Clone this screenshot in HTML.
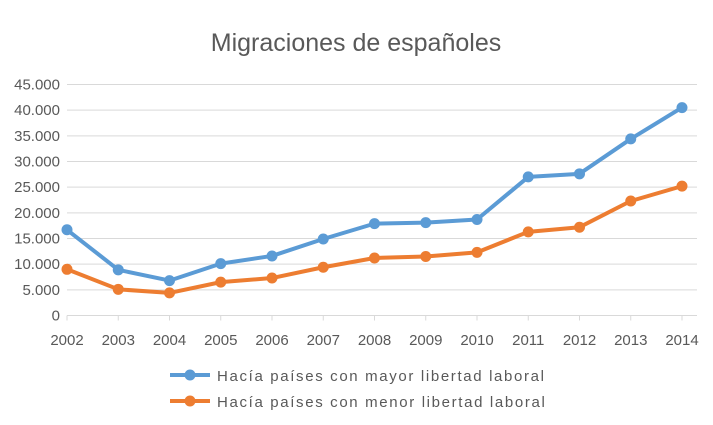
<!DOCTYPE html>
<html><head><meta charset="utf-8"><style>
body{margin:0;background:#fff;}
svg text{font-family:"Liberation Sans",sans-serif;fill:#595959;}
</style></head><body>
<svg width="713" height="420">
<text x="356" y="51" text-anchor="middle" font-size="25">Migraciones de españoles</text>
<g id="grid"></g><g id="series"></g>
<g>
<line x1="170" y1="375" x2="210" y2="375" stroke="#5b9bd5" stroke-width="4"/><circle cx="190" cy="375" r="5.5" fill="#5b9bd5"/>
<text x="217" y="381" font-size="15" letter-spacing="1.65">Hacía países con mayor libertad laboral</text>
<line x1="170" y1="401" x2="210" y2="401" stroke="#ed7d31" stroke-width="4"/><circle cx="190" cy="401" r="5.5" fill="#ed7d31"/>
<text x="217" y="407" font-size="15" letter-spacing="1.65">Hacía países con menor libertad laboral</text>
</g>
</svg>
<script>
const years=["2002","2003","2004","2005","2006","2007","2008","2009","2010","2011","2012","2013","2014"];
const mayor=[16700,8900,6800,10100,11600,14900,17900,18100,18700,27000,27600,34400,40500];
const menor=[9000,5100,4400,6500,7300,9400,11200,11500,12300,16300,17200,22300,25200];
const yTicks=[0,5000,10000,15000,20000,25000,30000,35000,40000,45000];
const yTickLabels=["0","5.000","10.000","15.000","20.000","25.000","30.000","35.000","40.000","45.000"];
const NS="http://www.w3.org/2000/svg";
const X=i=>67+i*51.25, Y=v=>315.5-v/45000*231;
function mk(t,a,p){const e=document.createElementNS(NS,t);for(const k in a)e.setAttribute(k,a[k]);p.appendChild(e);return e;}
const g=document.getElementById('grid');
yTicks.forEach((v,i)=>{
 const l=mk('line',{x1:67,x2:697,y1:Y(v),y2:Y(v),stroke:'#d9d9d9','stroke-width':1},g);
 
 
 const t=mk('text',{x:60,y:Y(v)+5,'text-anchor':'end','font-size':15},g);t.textContent=yTickLabels[i];
 
 
});
years.forEach((y,i)=>{
 mk('line',{x1:X(i),x2:X(i),y1:Y(0),y2:Y(0)+5,stroke:'#d9d9d9'},g);
 const t=mk('text',{x:X(i),y:345,'text-anchor':'middle','font-size':15},g);t.textContent=y;
 
 
});
const s=document.getElementById('series');
[[mayor,'#5b9bd5','series-mayor'],[menor,'#ed7d31','series-menor']].forEach(([d,c,n])=>{
 const p=mk('polyline',{points:d.map((v,i)=>X(i)+','+Y(v)).join(' '),fill:'none',stroke:c,'stroke-width':4,'stroke-linejoin':'round'},s);
 
 
 d.forEach((v,i)=>{const m=mk('circle',{cx:X(i),cy:Y(v),r:5.5,fill:c},s);
  
  });
});
</script>
</body></html>
